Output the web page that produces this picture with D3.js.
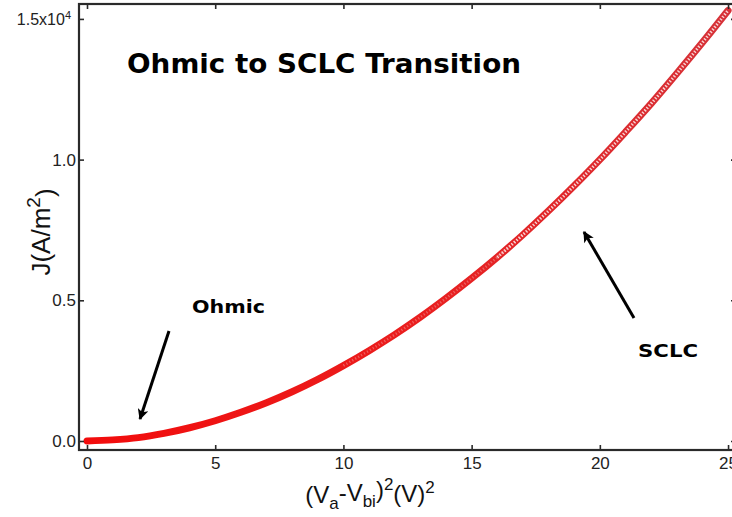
<!DOCTYPE html>
<html>
<head>
<meta charset="utf-8">
<script src="https://cdn.jsdelivr.net/npm/d3@7/dist/d3.min.js"></script>
<style>
  html, body { margin: 0; padding: 0; background: #fff; }
  svg { display: block; }
  text { font-family: "Liberation Sans", Arial, sans-serif; }
</style>
</head>
<body>
<svg id="chart" width="732" height="517"></svg>
<script>
// (Va - Vbi)^2 in V^2
const biasSquared = [0, 1, 2, 3, 4, 5, 6, 7, 8, 9, 10, 11, 12, 13, 14, 15, 16, 17, 18, 19, 20, 21, 22, 23, 24, 25];
// current density J in units of 1e4 A/m^2
const currentDensity = [0.000, 0.004, 0.012, 0.027, 0.047, 0.072, 0.102, 0.136, 0.175, 0.219, 0.268, 0.321, 0.378, 0.440, 0.507, 0.578, 0.653, 0.733, 0.818, 0.907, 1.000, 1.098, 1.199, 1.306, 1.416, 1.530];

const xTicks = [0, 5, 10, 15, 20, 25];
const yTicks = [0, 0.5, 1.0, 1.5];
const yTickLabels = ["0.0", "0.5", "1.0", "1.5x10"];

const data = biasSquared.map((v, i) => ({ x: v, y: currentDensity[i] }));

const svg = d3.select("#chart");
const plotLeft = 79, plotRight = 736, plotTop = 4, plotBottom = 450;

const x = d3.scaleLinear().domain([-0.312, 25.31]).range([plotLeft, plotRight]);
const y = d3.scaleLinear().domain([-0.032, 1.553]).range([plotBottom, plotTop]);

const defs = svg.append("defs");

// clip for the plotting area
defs.append("clipPath").attr("id", "plotClip")
  .append("rect").attr("x", plotLeft).attr("y", plotTop)
  .attr("width", plotRight - plotLeft).attr("height", plotBottom - plotTop);

// stroke colour shifts from bright red to a deeper crimson along x
const grad = defs.append("linearGradient")
  .attr("id", "curveGrad").attr("gradientUnits", "userSpaceOnUse")
  .attr("x1", x(0)).attr("x2", x(25)).attr("y1", 0).attr("y2", 0);
grad.append("stop").attr("offset", "0").attr("stop-color", "#f20c0c");
grad.append("stop").attr("offset", "0.5").attr("stop-color", "#ea1e1e");
grad.append("stop").attr("offset", "1").attr("stop-color", "#d63238");

const line = d3.line().x(d => x(d.x)).y(d => y(d.y)).curve(d3.curveMonotoneX);

const plot = svg.append("g").attr("clip-path", "url(#plotClip)");

plot.append("path").datum(data)
  .attr("d", line)
  .attr("fill", "none")
  .attr("stroke", "url(#curveGrad)")
  .attr("stroke-width", 7)
  .attr("stroke-linecap", "round");

// open-circle texture of the densely spaced markers
plot.append("path").datum(data.filter(d => d.x >= 10 && d.x <= 17))
  .attr("d", line)
  .attr("fill", "none")
  .attr("stroke", "#f6c4c4")
  .attr("stroke-width", 2.6)
  .attr("stroke-dasharray", "1.2,2.2")
  .attr("opacity", 0.4);

plot.append("path").datum(data.filter(d => d.x >= 16))
  .attr("d", line)
  .attr("fill", "none")
  .attr("stroke", "#fadcdc")
  .attr("stroke-width", 3)
  .attr("stroke-dasharray", "1.4,1.8")
  .attr("opacity", 0.95);

// axes: ticks pointing inward on all four sides
const axisColor = "#2a2a2a";
function styleAxis(g) {
  g.select(".domain").remove();
  g.selectAll(".tick line").attr("stroke", axisColor).attr("stroke-width", 1.6);
  g.selectAll(".tick text").attr("fill", "#222").style("font-size", "17px")
    .style("font-family", "'Liberation Sans', Arial, sans-serif");
}

svg.append("g").attr("transform", `translate(0,${plotBottom})`)
  .call(d3.axisBottom(x).tickValues(xTicks).tickSizeInner(-5).tickSizeOuter(0).tickPadding(7).tickFormat(d3.format("d")))
  .call(styleAxis);

svg.append("g").attr("transform", `translate(0,${plotTop})`)
  .call(d3.axisTop(x).tickValues(xTicks).tickSizeInner(-5).tickSizeOuter(0).tickFormat(""))
  .call(styleAxis);

const yAxisG = svg.append("g").attr("transform", `translate(${plotLeft},0)`)
  .call(d3.axisLeft(y).tickValues(yTicks).tickSizeInner(-5).tickSizeOuter(0).tickPadding(3)
    .tickFormat((d, i) => yTickLabels[i]))
  .call(styleAxis);

// exponent on the top tick label
yAxisG.selectAll(".tick text").filter(d => d === 1.5)
  .style("font-size", "16px")
  .attr("dx", "-5px")
  .append("tspan").attr("dy", "-0.5em").style("font-size", "11px").text("4");

svg.append("g").attr("transform", `translate(${plotRight},0)`)
  .call(d3.axisRight(y).tickValues(yTicks).tickSizeInner(-5).tickSizeOuter(0).tickFormat(""))
  .call(styleAxis);

// frame
svg.append("rect")
  .attr("x", plotLeft).attr("y", plotTop)
  .attr("width", plotRight - plotLeft).attr("height", plotBottom - plotTop)
  .attr("fill", "none").attr("stroke", axisColor).attr("stroke-width", 2.2);

// axis titles
svg.append("text")
  .attr("transform", "translate(50,232) rotate(-90)")
  .attr("text-anchor", "middle")
  .style("font-size", "26px").attr("fill", "#111")
  .call(t => {
    t.append("tspan").text("J(A/m");
    t.append("tspan").attr("dy", "-0.55em").style("font-size", "19px").text("2");
    t.append("tspan").attr("dy", "0.55em").text(")");
  });

svg.append("text")
  .attr("x", 370).attr("y", 503)
  .attr("text-anchor", "middle")
  .style("font-size", "24px").attr("fill", "#111")
  .call(t => {
    t.append("tspan").text("(V");
    t.append("tspan").attr("dy", "0.35em").style("font-size", "17px").text("a");
    t.append("tspan").attr("dy", "-0.35em").text("-V");
    t.append("tspan").attr("dy", "0.35em").style("font-size", "17px").text("bi");
    t.append("tspan").attr("dy", "-0.35em").text(")");
    t.append("tspan").attr("dy", "-0.5em").style("font-size", "17px").text("2");
    t.append("tspan").attr("dy", "0.5em").text("(V)");
    t.append("tspan").attr("dy", "-0.5em").style("font-size", "17px").text("2");
  });

// annotations (heavy sans, stretched to the drawn widths)
const heavy = "'DejaVu Sans', 'Liberation Sans', Arial, sans-serif";
svg.append("text").attr("x", 127).attr("y", 73)
  .style("font-family", heavy)
  .style("font-size", "27px").style("font-weight", "bold").attr("fill", "#000")
  .attr("textLength", 394).attr("lengthAdjust", "spacingAndGlyphs")
  .text("Ohmic to SCLC Transition");

svg.append("text").attr("x", 192).attr("y", 313)
  .style("font-family", heavy)
  .style("font-size", "18px").style("font-weight", "bold").attr("fill", "#000")
  .attr("textLength", 73).attr("lengthAdjust", "spacingAndGlyphs")
  .text("Ohmic");

svg.append("text").attr("x", 638).attr("y", 357)
  .style("font-family", heavy)
  .style("font-size", "18px").style("font-weight", "bold").attr("fill", "#000")
  .attr("textLength", 60).attr("lengthAdjust", "spacingAndGlyphs")
  .text("SCLC");

defs.append("marker")
  .attr("id", "arrowHead").attr("viewBox", "0 0 10 10")
  .attr("refX", 9).attr("refY", 5)
  .attr("markerUnits", "userSpaceOnUse")
  .attr("markerWidth", 16).attr("markerHeight", 11)
  .attr("orient", "auto")
  .append("path").attr("d", "M0,0 L10,5 L0,10 L2.5,5 Z").attr("fill", "#000");

const arrows = [
  { x1: 169, y1: 331, x2: 140, y2: 419 },
  { x1: 634, y1: 318, x2: 584, y2: 232 }
];
svg.selectAll(".arrow").data(arrows).join("line")
  .attr("class", "arrow")
  .attr("x1", d => d.x1).attr("y1", d => d.y1)
  .attr("x2", d => d.x2).attr("y2", d => d.y2)
  .attr("stroke", "#000").attr("stroke-width", 3)
  .attr("marker-end", "url(#arrowHead)");
</script>
</body>
</html>
